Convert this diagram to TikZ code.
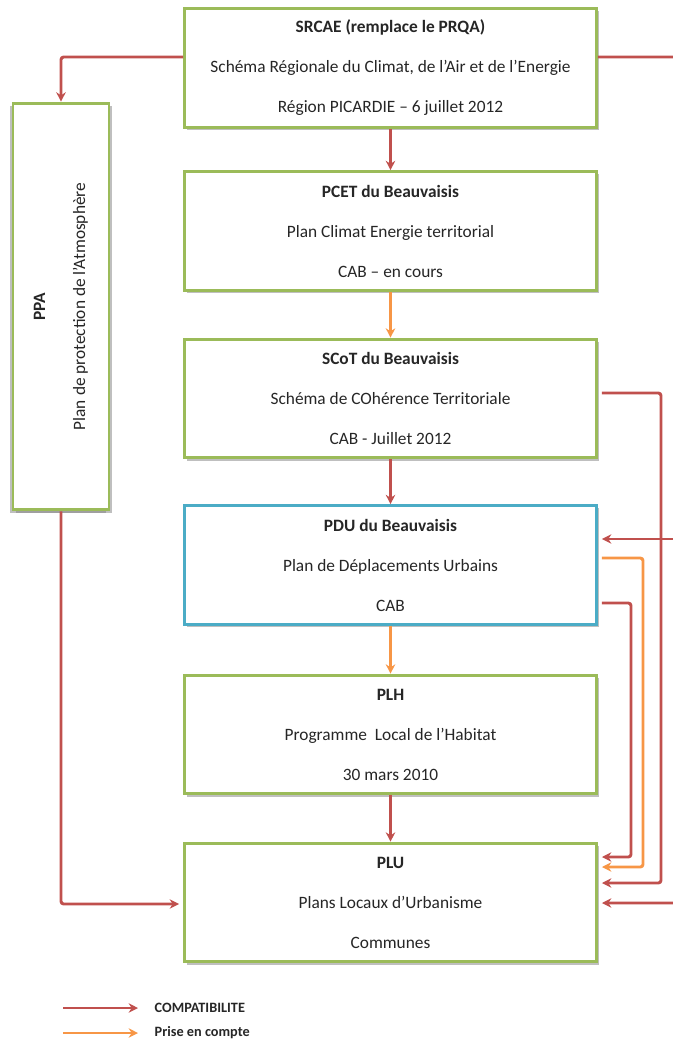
\documentclass[tikz,border=0pt]{standalone}
\usepackage{fontspec}
\setmainfont{Carlito}
\usetikzlibrary{positioning}
\usetikzlibrary{arrows.meta}
\usetikzlibrary{shadows}
\definecolor{boxgreen}{HTML}{9BBB59}
\definecolor{boxblue}{HTML}{4BACC6}
\definecolor{linkred}{HTML}{C0504D}
\definecolor{linkorange}{HTML}{F79646}
\tikzset{x=0.75pt, y=-0.75pt,
    box/.style={
        draw=boxgreen,
        line width=2.2pt,
        fill=white,
        align=center,
        text=black!85,
        minimum width=309pt,
        minimum height=89pt,
        font=\fontsize{13}{30}\selectfont,
        drop shadow={shadow xshift=2pt,shadow yshift=-2pt,fill=black!50,opacity=0.5}},
    compat/.style={
        draw=linkred,
        line width=2.2pt,
        rounded corners=2pt,
        -{Stealth[length=7pt,width=7pt]}},
    prise/.style={
        compat,
        draw=linkorange},
    gap/.style={shorten >=3pt, shorten <=3pt},
    legend/.style={
        anchor=west,
        text=black!85,
        font=\fontsize{10.7}{12}\selectfont\bfseries}}

\begin{document}
\begin{tikzpicture}
        \useasboundingbox (0,0) rectangle (673,1041);
        \clip (0,0) rectangle (673,1041);

        \node[box] (srcae) at (390.5,68) {\textbf{SRCAE (remplace le PRQA)}\\Schéma Régionale du Climat, de l’Air et de l’Energie\\Région PICARDIE – 6 juillet 2012};
        \node[box] (pcet) at (390.5,231) {\textbf{PCET du Beauvaisis}\\Plan Climat Energie territorial\\CAB – en cours};
        \node[box] (scot) at (390.5,398.5) {\textbf{SCoT du Beauvaisis}\\Schéma de COhérence Territoriale\\CAB - Juillet 2012};
        \node[box,draw=boxblue] (pdu) at (390.5,565) {\textbf{PDU du Beauvaisis}\\Plan de Déplacements Urbains\\CAB};
        \node[box] (plh) at (390.5,734.5) {\textbf{PLH}\\Programme~ Local de l’Habitat\\30 mars 2010};
        \node[box] (plu) at (390.5,902.5) {\textbf{PLU}\\Plans Locaux d’Urbanisme\\Communes};
        \node[box,rotate=90,minimum width=305pt,minimum height=72pt,
            drop shadow={shadow xshift=-2pt,shadow yshift=-2pt,fill=black!50,opacity=0.5}]
            (ppa) at (61,306.5) {\textbf{PPA}\\Plan de protection de l’Atmosphère};

        % rails on the right
        \coordinate (r1) at (631,0);
        \coordinate (r2) at (643,0);
        \coordinate (r3) at (661,0);
        \coordinate (rail) at (690,0);

        \draw (srcae) edge[compat] (pcet);
        \draw (pcet) edge[prise] (scot);
        \draw (scot) edge[compat] (pdu);
        \draw (pdu) edge[prise] (plh);
        \draw (plh) edge[compat] (plu);

        \draw[compat] (srcae.west |- 0,57) -| (ppa.east);
        \draw[compat,shorten >=3pt] (ppa.west) |- (plu.west |- 0,904);

        \draw[compat,shorten >=3pt] (srcae.east |- 0,57) -- (rail |- 0,57) -- (rail |- 0,903) -- (plu.east |- 0,903);
        \draw[compat,shorten >=3pt] (rail |- 0,539) -- (pdu.east |- 0,539);
        \draw[compat,gap] (scot.east |- 0,393) -| (r3 |- 0,883) -- (plu.east |- 0,883);
        \draw[prise,gap] (pdu.east |- 0,558) -| (r2 |- 0,867) -- (plu.east |- 0,867);
        \draw[compat,gap] (pdu.east |- 0,603) -| (r1 |- 0,857) -- (plu.east |- 0,857);

        % legend
        \coordinate (c1) at (63,1008);
        \coordinate (c2) at (63,1033);
        \node[legend] (lcompat) at (150,1008) {COMPATIBILITE};
        \node[legend] (lprise) at (150,1033) {Prise en compte};
        \draw[compat,shorten >=9pt] (c1) -- (lcompat);
        \draw[prise,shorten >=9pt] (c2) -- (lprise);

    \end{tikzpicture}
\end{document}
